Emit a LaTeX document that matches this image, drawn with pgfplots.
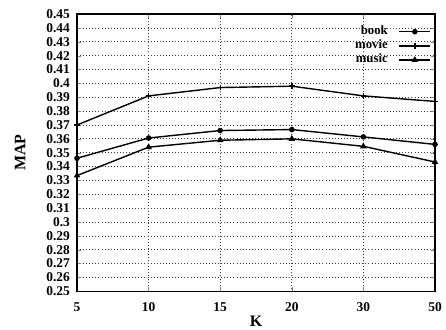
\documentclass[border=0pt]{standalone}
\usepackage{fontspec}
\setmainfont{Liberation Serif}
\usepackage{pgfplots}
\pgfplotsset{compat=1.18}
\begin{document}
\begin{tikzpicture}
\begin{axis}[
  scale only axis,
  width=279bp, height=216bp,
  xmin=0, xmax=5,
  ymin=0.25, ymax=0.45,
  xtick={0,1,2,3,4,5},
  xticklabels={5,10,15,20,30,50},
  ytick={0.25,0.26,0.27,0.28,0.29,0.30,0.31,0.32,0.33,0.34,0.35,0.36,0.37,0.38,0.39,0.40,0.41,0.42,0.43,0.44,0.45},
  /pgf/number format/assume math mode=true,
  yticklabel style={/pgf/number format/fixed, /pgf/number format/precision=2, font=\bfseries\fontsize{10.5}{12}\selectfont, xshift=-2bp},
  xticklabel style={font=\bfseries\fontsize{10.5}{12}\selectfont, yshift=-5bp},
  tick align=inside,
  major tick length=3pt,
  grid=major,
  major grid style={black!75, dotted, line width=0.55pt},
  axis line style={line width=1.2pt},
  xlabel={K}, ylabel={MAP},
  label style={font=\bfseries\fontsize{12.5}{14}\selectfont},
  ylabel style={at={([xshift=-40bp]rel axis cs:0,0.5)}, anchor=south, inner sep=0pt},
  xlabel style={at={([yshift=-19bp]rel axis cs:0.5,0)}, anchor=north, inner sep=0pt},
  legend style={draw=none, fill=none, font=\bfseries\fontsize{10}{12}\selectfont,
    at={([xshift=-3bp,yshift=-8bp]rel axis cs:1,1)}, anchor=north east, inner sep=0pt,
    row sep=0pt, column sep=8.5bp,
    nodes={inner xsep=0pt, inner ysep=1.05bp, text height=6.8bp, text depth=2.1bp}},
  legend cell align=right,
  legend plot pos=right,
  legend image code/.code={\draw[mark repeat=2, mark phase=2, #1] plot coordinates {(0bp,0bp) (12bp,0bp) (24bp,0bp)};},
]
\addplot[black, line width=1.1pt, mark=*, mark size=1.6pt] coordinates {
 (0,0.346) (1,0.3606) (2,0.366) (3,0.3667) (4,0.3614) (5,0.356)};
\addlegendentry{book}
\addplot[black, line width=1.1pt, mark=+, mark size=2.2pt] coordinates {
 (0,0.370) (1,0.391) (2,0.397) (3,0.398) (4,0.391) (5,0.387)};
\addlegendentry{movie}
\addplot[black, line width=1.1pt, mark=triangle*, mark size=1.9pt] coordinates {
 (0,0.3335) (1,0.354) (2,0.359) (3,0.360) (4,0.3546) (5,0.3433)};
\addlegendentry{music}
\end{axis}
\path ([xshift=-60bp,yshift=11bp]current axis.north west);
\path ([yshift=-30bp]current axis.south);
\end{tikzpicture}
\end{document}
